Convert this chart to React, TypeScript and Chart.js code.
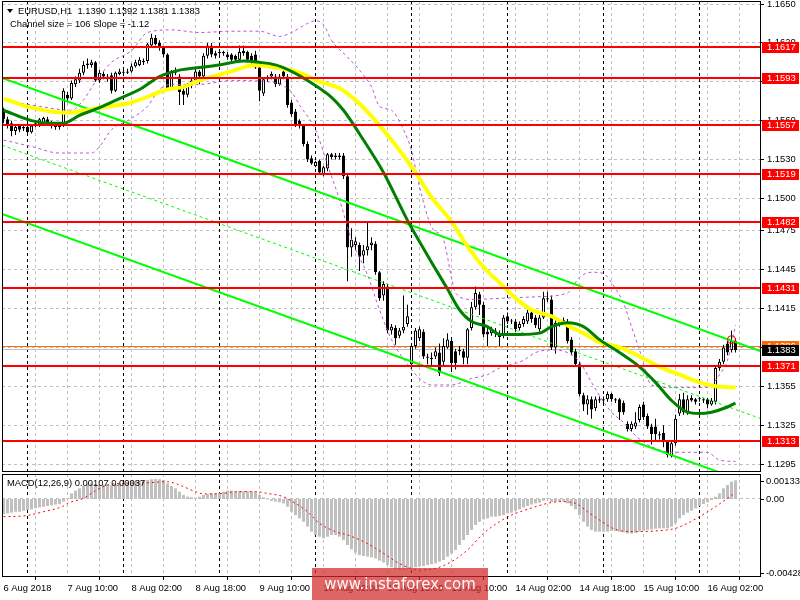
import React, { useEffect, useRef } from 'react';
import { Chart, registerables } from 'chart.js';

Chart.register(...registerables);

const FONT_FAMILY = '"Liberation Sans", Arial, sans-serif';
const FONT_SIZE = 9.4;
const TEXT_FONT = FONT_SIZE + 'px "Liberation Sans", Arial, sans-serif';

// ---------- texts ----------
const symbolTitle = 'EURUSD,H1  1.1390 1.1392 1.1381 1.1383';
const channelTitle = 'Channel size = 106 Slope = -1.12';
const macdTitle = 'MACD(12,26,9) 0.00107 0.00037';
const watermark = 'www.instaforex.com';

// ---------- time axis (one bar = one hour, bar 0 = 6 Aug 18:00) ----------
const timeLabels = ['6 Aug 2018', '7 Aug 10:00', '8 Aug 02:00', '8 Aug 18:00', '9 Aug 10:00', '10 Aug 02:00', '10 Aug 18:00', '13 Aug 10:00', '14 Aug 02:00', '14 Aug 18:00', '15 Aug 10:00', '16 Aug 02:00'];
const timeLabelIdx = [0, 16, 32, 48, 64, 80, 96, 112, 128, 144, 160, 176];
const gridIdx = [8, 16, 24, 32, 40, 48, 56, 64, 72, 80, 88, 96, 104, 112, 120, 128, 136, 144, 152, 160, 168, 176, 184];
const dayIdx = [6, 30, 54, 78, 102, 126, 150, 174];

// ---------- price axis ----------
const priceTicks = [1.1650, 1.1620, 1.1590, 1.1560, 1.1530, 1.1500, 1.1475, 1.1445, 1.1415, 1.1385, 1.1355, 1.1325, 1.1295];
const redLevels = [1.1617, 1.1593, 1.1557, 1.1519, 1.1482, 1.1431, 1.1371, 1.1313];
const askLevel = 1.1386;
const bidLevel = 1.1383;

// ---------- candles ----------
const opens = [
  1.1567, 1.1561, 1.1558, 1.1552, 1.1556, 1.1554, 1.1555, 1.1551,
  1.1556, 1.1557, 1.1558, 1.1561, 1.1559, 1.1557, 1.1556, 1.1556,
  1.1580, 1.1577, 1.1588, 1.1591, 1.1597, 1.1603, 1.1603, 1.1605,
  1.1591, 1.1596, 1.1594, 1.1595, 1.1583, 1.1596, 1.1597, 1.1597,
  1.1598, 1.1602, 1.1603, 1.1606, 1.1606, 1.1618, 1.1624, 1.1620,
  1.1616, 1.1611, 1.1585, 1.1597, 1.1594, 1.1583, 1.1580, 1.1587,
  1.1591, 1.1598, 1.1594, 1.1610, 1.1618, 1.1612, 1.1612, 1.1613,
  1.1611, 1.1611, 1.1610, 1.1607, 1.1614, 1.1613, 1.1610, 1.1611,
  1.1601, 1.1581, 1.1592, 1.1594, 1.1594, 1.1588, 1.1598, 1.1594,
  1.1574, 1.1567, 1.1560, 1.1556, 1.1542, 1.1531, 1.1525, 1.1529,
  1.1518, 1.1523, 1.1534, 1.1533, 1.1533, 1.1533, 1.1517, 1.1462,
  1.1464, 1.1464, 1.1456, 1.1460, 1.1464, 1.1465, 1.1443, 1.1425,
  1.1432, 1.1398, 1.1400, 1.1394, 1.1398, 1.1403, 1.1372, 1.1386,
  1.1392, 1.1397, 1.1378, 1.1376, 1.1378, 1.1381, 1.1374, 1.1385,
  1.1390, 1.1382, 1.1382, 1.1382, 1.1377, 1.1400, 1.1416, 1.1426,
  1.1418, 1.1397, 1.1396, 1.1398, 1.1396, 1.1395, 1.1409, 1.1405,
  1.1405, 1.1400, 1.1403, 1.1405, 1.1412, 1.1408, 1.1399, 1.1408,
  1.1423, 1.1422, 1.1385, 1.1403, 1.1405, 1.1405, 1.1391, 1.1382,
  1.1372, 1.1348, 1.1341, 1.1345, 1.1338, 1.1345, 1.1345, 1.1345,
  1.1349, 1.1345, 1.1345, 1.1342, 1.1326, 1.1322, 1.1324, 1.1329,
  1.1341, 1.1332, 1.1324, 1.1324, 1.1318, 1.1319, 1.1312, 1.1301,
  1.1311, 1.1334, 1.1345, 1.1335, 1.1346, 1.1345, 1.1345, 1.1345,
  1.1345, 1.1341, 1.1343, 1.1369, 1.1374, 1.1388, 1.1383, 1.1390,
];
const highs = [
  1.1570, 1.1563, 1.1560, 1.1557, 1.1557, 1.1557, 1.1556, 1.1557,
  1.1560, 1.1562, 1.1563, 1.1563, 1.1560, 1.1558, 1.1559, 1.1585,
  1.1582, 1.1591, 1.1594, 1.1600, 1.1606, 1.1608, 1.1607, 1.1606,
  1.1599, 1.1598, 1.1596, 1.1597, 1.1598, 1.1600, 1.1599, 1.1600,
  1.1604, 1.1607, 1.1609, 1.1608, 1.1620, 1.1627, 1.1626, 1.1622,
  1.1617, 1.1612, 1.1599, 1.1601, 1.1596, 1.1585, 1.1589, 1.1593,
  1.1600, 1.1599, 1.1612, 1.1620, 1.1620, 1.1614, 1.1615, 1.1614,
  1.1613, 1.1612, 1.1611, 1.1618, 1.1618, 1.1614, 1.1612, 1.1614,
  1.1602, 1.1593, 1.1595, 1.1598, 1.1596, 1.1596, 1.1599, 1.1596,
  1.1576, 1.1569, 1.1561, 1.1557, 1.1544, 1.1533, 1.1529, 1.1530,
  1.1525, 1.1535, 1.1535, 1.1535, 1.1535, 1.1535, 1.1518, 1.1477,
  1.1470, 1.1466, 1.1464, 1.1481, 1.1470, 1.1467, 1.1444, 1.1436,
  1.1434, 1.1403, 1.1402, 1.1400, 1.1425, 1.1418, 1.1388, 1.1400,
  1.1401, 1.1399, 1.1380, 1.1381, 1.1385, 1.1388, 1.1392, 1.1396,
  1.1393, 1.1384, 1.1386, 1.1384, 1.1400, 1.1420, 1.1432, 1.1428,
  1.1420, 1.1400, 1.1401, 1.1400, 1.1398, 1.1410, 1.1412, 1.1407,
  1.1407, 1.1405, 1.1409, 1.1414, 1.1414, 1.1410, 1.1410, 1.1428,
  1.1428, 1.1425, 1.1406, 1.1407, 1.1408, 1.1407, 1.1393, 1.1384,
  1.1374, 1.1350, 1.1348, 1.1347, 1.1347, 1.1347, 1.1347, 1.1351,
  1.1350, 1.1346, 1.1346, 1.1344, 1.1328, 1.1328, 1.1335, 1.1341,
  1.1343, 1.1334, 1.1326, 1.1330, 1.1320, 1.1325, 1.1313, 1.1312,
  1.1333, 1.1349, 1.1350, 1.1348, 1.1348, 1.1346, 1.1346, 1.1346,
  1.1346, 1.1346, 1.1371, 1.1376, 1.1387, 1.1390, 1.1398, 1.1392,
];
const lows = [
  1.1558, 1.1554, 1.1548, 1.1549, 1.1551, 1.1552, 1.1549, 1.1550,
  1.1555, 1.1555, 1.1556, 1.1556, 1.1554, 1.1553, 1.1553, 1.1555,
  1.1574, 1.1576, 1.1586, 1.1589, 1.1595, 1.1600, 1.1601, 1.1590,
  1.1589, 1.1592, 1.1590, 1.1581, 1.1582, 1.1595, 1.1595, 1.1596,
  1.1597, 1.1601, 1.1602, 1.1603, 1.1604, 1.1617, 1.1618, 1.1614,
  1.1609, 1.1584, 1.1584, 1.1595, 1.1572, 1.1572, 1.1578, 1.1585,
  1.1589, 1.1588, 1.1592, 1.1608, 1.1609, 1.1608, 1.1610, 1.1610,
  1.1607, 1.1605, 1.1605, 1.1606, 1.1610, 1.1605, 1.1604, 1.1600,
  1.1575, 1.1579, 1.1590, 1.1592, 1.1586, 1.1587, 1.1592, 1.1570,
  1.1563, 1.1555, 1.1554, 1.1540, 1.1528, 1.1526, 1.1524, 1.1518,
  1.1517, 1.1521, 1.1530, 1.1530, 1.1530, 1.1515, 1.1436, 1.1455,
  1.1460, 1.1444, 1.1450, 1.1456, 1.1460, 1.1441, 1.1421, 1.1421,
  1.1396, 1.1395, 1.1387, 1.1392, 1.1396, 1.1401, 1.1371, 1.1384,
  1.1390, 1.1376, 1.1372, 1.1370, 1.1376, 1.1363, 1.1371, 1.1384,
  1.1366, 1.1368, 1.1379, 1.1372, 1.1372, 1.1398, 1.1414, 1.1410,
  1.1393, 1.1386, 1.1394, 1.1393, 1.1386, 1.1392, 1.1403, 1.1403,
  1.1397, 1.1398, 1.1401, 1.1403, 1.1404, 1.1400, 1.1397, 1.1407,
  1.1420, 1.1383, 1.1380, 1.1401, 1.1403, 1.1388, 1.1379, 1.1370,
  1.1347, 1.1336, 1.1333, 1.1330, 1.1336, 1.1342, 1.1342, 1.1343,
  1.1343, 1.1342, 1.1329, 1.1333, 1.1320, 1.1320, 1.1322, 1.1327,
  1.1329, 1.1322, 1.1310, 1.1312, 1.1314, 1.1308, 1.1300, 1.1300,
  1.1309, 1.1332, 1.1333, 1.1333, 1.1343, 1.1341, 1.1343, 1.1342,
  1.1338, 1.1340, 1.1341, 1.1367, 1.1372, 1.1379, 1.1381, 1.1381,
];
const closes = [
  1.1561, 1.1557, 1.1552, 1.1555, 1.1553, 1.1555, 1.1551, 1.1556,
  1.1558, 1.1561, 1.1562, 1.1558, 1.1556, 1.1555, 1.1555, 1.1583,
  1.1577, 1.1589, 1.1592, 1.1597, 1.1603, 1.1604, 1.1605, 1.1591,
  1.1597, 1.1594, 1.1592, 1.1583, 1.1597, 1.1598, 1.1597, 1.1598,
  1.1602, 1.1605, 1.1607, 1.1605, 1.1619, 1.1624, 1.1619, 1.1616,
  1.1611, 1.1585, 1.1598, 1.1598, 1.1582, 1.1580, 1.1587, 1.1591,
  1.1598, 1.1594, 1.1610, 1.1618, 1.1611, 1.1610, 1.1613, 1.1612,
  1.1609, 1.1607, 1.1607, 1.1613, 1.1612, 1.1607, 1.1606, 1.1601,
  1.1583, 1.1592, 1.1593, 1.1596, 1.1588, 1.1594, 1.1594, 1.1572,
  1.1565, 1.1557, 1.1556, 1.1542, 1.1530, 1.1527, 1.1528, 1.1520,
  1.1524, 1.1534, 1.1532, 1.1532, 1.1532, 1.1517, 1.1462, 1.1468,
  1.1467, 1.1455, 1.1460, 1.1463, 1.1466, 1.1443, 1.1423, 1.1434,
  1.1398, 1.1401, 1.1392, 1.1398, 1.1401, 1.1409, 1.1386, 1.1398,
  1.1399, 1.1378, 1.1377, 1.1377, 1.1382, 1.1365, 1.1386, 1.1391,
  1.1373, 1.1373, 1.1383, 1.1377, 1.1399, 1.1416, 1.1427, 1.1418,
  1.1395, 1.1395, 1.1399, 1.1397, 1.1393, 1.1408, 1.1405, 1.1405,
  1.1399, 1.1403, 1.1407, 1.1412, 1.1407, 1.1402, 1.1408, 1.1423,
  1.1422, 1.1385, 1.1404, 1.1405, 1.1406, 1.1390, 1.1381, 1.1372,
  1.1349, 1.1341, 1.1345, 1.1337, 1.1345, 1.1344, 1.1344, 1.1349,
  1.1345, 1.1344, 1.1335, 1.1335, 1.1322, 1.1326, 1.1327, 1.1339,
  1.1331, 1.1324, 1.1318, 1.1318, 1.1317, 1.1312, 1.1302, 1.1311,
  1.1330, 1.1345, 1.1335, 1.1345, 1.1344, 1.1343, 1.1345, 1.1344,
  1.1341, 1.1344, 1.1369, 1.1374, 1.1385, 1.1381, 1.1390, 1.1383,
];

// ---------- indicators (sampled at bar indices) ----------
const greenMaIdx = [0, 7, 12, 15, 19, 24, 29, 34, 39, 44, 49, 54, 60, 64, 68, 72, 77, 82, 85, 90, 95, 101, 106, 111, 114, 117, 121, 124, 129, 134, 137, 141, 145, 149, 154, 159, 163, 167, 171, 174, 177, 181, 183];
const greenMaVal = [1.1568, 1.1560, 1.1558, 1.1558, 1.1564, 1.1570, 1.1577, 1.1584, 1.1594, 1.1599, 1.1601, 1.1603, 1.1606, 1.1605, 1.1603, 1.1598, 1.1589, 1.1578, 1.1568, 1.1545, 1.1520, 1.1483, 1.1456, 1.1430, 1.1414, 1.1405, 1.1401, 1.1395, 1.1395, 1.1396, 1.1401, 1.1404, 1.1401, 1.1391, 1.1381, 1.1370, 1.1358, 1.1344, 1.1335, 1.1334, 1.1335, 1.1339, 1.1342];
const yellowMaIdx = [0, 7, 16, 24, 32, 41, 45, 49, 57, 63, 68, 74, 79, 84, 89, 97, 103, 107, 112, 116, 120, 124, 128, 132, 137, 141, 145, 149, 154, 159, 164, 169, 174, 178, 183];
const yellowMaVal = [1.1577, 1.1570, 1.1566, 1.1570, 1.1574, 1.1584, 1.1586, 1.1591, 1.1598, 1.1603, 1.1601, 1.1597, 1.1590, 1.1585, 1.1573, 1.1545, 1.1520, 1.1501, 1.1482, 1.1463, 1.1447, 1.1435, 1.1423, 1.1414, 1.1409, 1.1402, 1.1396, 1.1389, 1.1385, 1.1378, 1.1370, 1.1364, 1.1358, 1.1355, 1.1354];
const upperBandIdx = [0, 9, 17, 20, 23, 27, 32, 36, 42, 49, 57, 64, 69, 72, 76, 78, 80, 82, 86, 89, 92, 94, 97, 100, 102, 104, 107, 110, 112, 113, 117, 125, 133, 141, 144, 147, 150, 152, 155, 157, 159, 162, 167, 176, 179, 181, 183];
const upperBandVal = [1.1576, 1.1571, 1.1568, 1.1576, 1.1590, 1.1605, 1.1614, 1.1628, 1.1630, 1.1628, 1.1629, 1.1629, 1.1625, 1.1628, 1.1635, 1.1637, 1.1634, 1.1622, 1.1609, 1.1599, 1.1586, 1.1571, 1.1568, 1.1553, 1.1537, 1.1509, 1.1478, 1.1468, 1.1439, 1.1427, 1.1422, 1.1423, 1.1424, 1.1427, 1.1439, 1.1443, 1.1442, 1.1435, 1.1419, 1.1401, 1.1383, 1.1356, 1.1354, 1.1354, 1.1364, 1.1375, 1.1402];
const lowerBandIdx = [0, 7, 14, 22, 24, 27, 31, 36, 39, 42, 49, 57, 66, 72, 74, 78, 81, 84, 87, 91, 94, 97, 101, 104, 107, 112, 117, 121, 124, 130, 133, 137, 141, 144, 147, 150, 152, 155, 157, 160, 163, 167, 172, 176, 179, 183];
const lowerBandVal = [1.1545, 1.1540, 1.1535, 1.1535, 1.1540, 1.1553, 1.1560, 1.1571, 1.1584, 1.1588, 1.1588, 1.1591, 1.1590, 1.1582, 1.1572, 1.1553, 1.1526, 1.1499, 1.1468, 1.1441, 1.1414, 1.1391, 1.1372, 1.1361, 1.1356, 1.1356, 1.1361, 1.1364, 1.1369, 1.1375, 1.1381, 1.1383, 1.1381, 1.1374, 1.1358, 1.1343, 1.1335, 1.1327, 1.1320, 1.1312, 1.1307, 1.1304, 1.1304, 1.1304, 1.1298, 1.1297];

// regression channel (end points at the chart edges)
const channelIdx = [-0.375, 189.375];
const channelUpper = [1.1593, 1.1382];
const channelMiddle = [1.1541, 1.1330];
const channelLower = [1.1488, 1.1277];

// hand-drawn marker
const markerIdx = [182];
const markerVal = [1.1391];

// ---------- MACD ----------
const macdHist = [
  -0.00086, -0.00082, -0.00078, -0.00073, -0.00073, -0.00067, -0.00063, -0.00059,
  -0.00053, -0.00048, -0.00044, -0.00040, -0.00036, -0.00032, -0.00029, -0.00015,
  0.00004, 0.00032, 0.00048, 0.00061, 0.00074, 0.00086, 0.00090, 0.00086,
  0.00082, 0.00082, 0.00082, 0.00080, 0.00086, 0.00090, 0.00093, 0.00097,
  0.00101, 0.00103, 0.00105, 0.00105, 0.00109, 0.00113, 0.00114, 0.00113,
  0.00109, 0.00090, 0.00074, 0.00061, 0.00042, 0.00023, 0.00013, 0.00010,
  0.00008, 0.00013, 0.00023, 0.00029, 0.00032, 0.00032, 0.00036, 0.00042,
  0.00048, 0.00048, 0.00044, 0.00046, 0.00044, 0.00044, 0.00044, 0.00040,
  0.00023, 0.00010, -0.00002, -0.00010, -0.00015, -0.00019, -0.00025, -0.00044,
  -0.00073, -0.00092, -0.00111, -0.00130, -0.00158, -0.00187, -0.00206, -0.00216,
  -0.00225, -0.00216, -0.00206, -0.00206, -0.00216, -0.00235, -0.00263, -0.00288,
  -0.00307, -0.00321, -0.00326, -0.00330, -0.00334, -0.00340, -0.00353, -0.00364,
  -0.00378, -0.00391, -0.00401, -0.00404, -0.00406, -0.00403, -0.00397, -0.00391,
  -0.00387, -0.00384, -0.00378, -0.00374, -0.00368, -0.00359, -0.00349, -0.00330,
  -0.00311, -0.00292, -0.00263, -0.00235, -0.00206, -0.00177, -0.00149, -0.00130,
  -0.00116, -0.00111, -0.00101, -0.00101, -0.00097, -0.00092, -0.00082, -0.00078,
  -0.00067, -0.00059, -0.00048, -0.00040, -0.00032, -0.00025, -0.00021, -0.00010,
  0.00004, -0.00017, -0.00015, -0.00015, -0.00015, -0.00025, -0.00040, -0.00059,
  -0.00092, -0.00130, -0.00158, -0.00177, -0.00187, -0.00187, -0.00187, -0.00187,
  -0.00183, -0.00183, -0.00187, -0.00191, -0.00197, -0.00197, -0.00193, -0.00187,
  -0.00181, -0.00177, -0.00174, -0.00170, -0.00168, -0.00168, -0.00168, -0.00158,
  -0.00139, -0.00111, -0.00092, -0.00078, -0.00067, -0.00053, -0.00040, -0.00029,
  -0.00019, -0.00006, 0.00013, 0.00032, 0.00061, 0.00080, 0.00099, 0.00107,
];
const signalIdx = [0, 5, 10, 15, 16, 20, 23, 26, 31, 36, 41, 44, 48, 50, 55, 58, 63, 66, 70, 73, 76, 79, 83, 86, 90, 93, 96, 99, 104, 108, 112, 116, 120, 124, 127, 131, 136, 139, 143, 146, 149, 153, 158, 163, 168, 171, 174, 178, 183];
const signalVal = [-0.00101, -0.00097, -0.00073, -0.00040, -0.00025, 0.00004, 0.00048, 0.00080, 0.00090, 0.00093, 0.00099, 0.00080, 0.00042, 0.00029, 0.00032, 0.00042, 0.00042, 0.00032, 0.00013, -0.00025, -0.00073, -0.00139, -0.00187, -0.00206, -0.00244, -0.00282, -0.00326, -0.00370, -0.00406, -0.00397, -0.00359, -0.00292, -0.00197, -0.00130, -0.00092, -0.00059, -0.00025, -0.00015, -0.00025, -0.00073, -0.00120, -0.00174, -0.00187, -0.00183, -0.00168, -0.00139, -0.00101, -0.00044, 0.00037];
const macdScaleVals = [0.00133, 0, -0.00428];
const macdScaleLabels = ['0.00133', '0.00', '-0.00428'];

// ---------- scale ranges ----------
const X_MIN = -0.375;
const X_MAX = 189.375;
const PRICE_MIN = 1.128883;
const PRICE_MAX = 1.165232;
const MACD_MIN = -0.004465;
const MACD_MAX = 0.001431;

const pts = (idx: number[], vals: number[]) => idx.map((x, k) => ({ x, y: vals[k] }));

function vLine(ctx: any, x: number, top: number, bottom: number) {
  ctx.beginPath();
  ctx.moveTo(x, top);
  ctx.lineTo(x, bottom);
  ctx.stroke();
}
function hLine(ctx: any, y: number, left: number, right: number) {
  ctx.beginPath();
  ctx.moveTo(left, y);
  ctx.lineTo(right, y);
  ctx.stroke();
}

function drawTimeGrid(ctx: any, a: any, xs: any) {
  ctx.setLineDash([3, 3]);
  ctx.strokeStyle = '#c0c0c0';
  gridIdx.forEach((i) => {
    const px = Math.floor(xs.getPixelForValue(i)) + 0.5;
    if (px > a.left && px < a.right) vLine(ctx, px, a.top, a.bottom);
  });
  ctx.strokeStyle = '#000000';
  dayIdx.forEach((i) => {
    const px = Math.floor(xs.getPixelForValue(i)) + 0.5;
    if (px > a.left && px < a.right) vLine(ctx, px, a.top, a.bottom);
  });
  ctx.setLineDash([]);
}

function drawFrame(ctx: any, a: any) {
  ctx.strokeStyle = '#000';
  ctx.lineWidth = 1;
  ctx.setLineDash([]);
  ctx.strokeRect(a.left + 0.5, a.top + 0.5, a.right - a.left - 1, a.bottom - a.top - 1);
}

function axisBox(ctx: any, a: any, y: number, bg: string, text: string) {
  const py = Math.round(y);
  ctx.fillStyle = bg;
  ctx.fillRect(a.right + 1, py - 5, 37, 11);
  ctx.fillStyle = '#ffffff';
  ctx.font = TEXT_FONT;
  ctx.textAlign = 'left';
  ctx.textBaseline = 'middle';
  ctx.fillText(text, a.right + 6, py + 0.5);
}

const mainPlugin = {
  id: 'mainDecor',
  beforeDatasetsDraw(chart: any) {
    const { ctx, chartArea: a, scales } = chart;
    const xs = scales.x;
    const ys = scales.y;
    ctx.save();
    ctx.lineWidth = 1;
    ctx.setLineDash([3, 3]);
    ctx.strokeStyle = '#c0c0c0';
    priceTicks.forEach((v) => {
      const py = Math.floor(ys.getPixelForValue(v)) + 0.5;
      if (py > a.top + 1 && py < a.bottom - 1) hLine(ctx, py, a.left, a.right);
    });
    drawTimeGrid(ctx, a, xs);
    ctx.strokeStyle = '#c0c0c0';
    hLine(ctx, Math.floor(ys.getPixelForValue(bidLevel)) + 0.5, a.left, a.right);
    ctx.strokeStyle = '#ff6a00';
    hLine(ctx, Math.floor(ys.getPixelForValue(askLevel)) + 0.5, a.left, a.right);
    ctx.restore();
  },
  afterDatasetsDraw(chart: any) {
    const { ctx, chartArea: a, scales } = chart;
    const ys = scales.y;
    ctx.save();
    ctx.strokeStyle = '#ff0000';
    ctx.lineWidth = 2;
    redLevels.forEach((v) => {
      const py = Math.round(ys.getPixelForValue(v));
      hLine(ctx, py, a.left, a.right);
    });
    ctx.restore();
  },
  afterDraw(chart: any) {
    const { ctx, chartArea: a, scales } = chart;
    const ys = scales.y;
    ctx.save();
    drawFrame(ctx, a);
    redLevels.forEach((v) => axisBox(ctx, a, ys.getPixelForValue(v), '#ff0000', v.toFixed(4)));
    axisBox(ctx, a, ys.getPixelForValue(askLevel), '#ff6a00', askLevel.toFixed(4));
    axisBox(ctx, a, ys.getPixelForValue(bidLevel), '#000000', bidLevel.toFixed(4));
    // header
    ctx.fillStyle = '#000';
    ctx.beginPath();
    ctx.moveTo(7, 9);
    ctx.lineTo(13, 9);
    ctx.lineTo(10, 13);
    ctx.closePath();
    ctx.fill();
    ctx.font = TEXT_FONT;
    ctx.textAlign = 'left';
    ctx.textBaseline = 'middle';
    ctx.fillText(symbolTitle, 18, 11);
    ctx.fillText(channelTitle, 10, 24);
    ctx.restore();
  },
};

const macdPlugin = {
  id: 'macdDecor',
  beforeDatasetsDraw(chart: any) {
    const { ctx, chartArea: a, scales } = chart;
    ctx.save();
    ctx.lineWidth = 1;
    drawTimeGrid(ctx, a, scales.x);
    ctx.setLineDash([3, 3]);
    ctx.strokeStyle = '#c0c0c0';
    hLine(ctx, Math.floor(scales.y.getPixelForValue(0)) + 0.5, a.left, a.right);
    ctx.restore();
  },
  afterDraw(chart: any) {
    const { ctx, chartArea: a, scales } = chart;
    ctx.save();
    drawFrame(ctx, a);
    ctx.fillStyle = '#000';
    ctx.strokeStyle = '#000';
    ctx.font = TEXT_FONT;
    ctx.textAlign = 'left';
    ctx.textBaseline = 'middle';
    ctx.fillText(macdTitle, 7, a.top + 9);
    macdScaleVals.forEach((v, k) => {
      const raw = scales.y.getPixelForValue(v);
      const py = Math.min(Math.max(raw, a.top + 7), a.bottom - 4);
      ctx.fillText(macdScaleLabels[k], a.right + 5, py);
      ctx.beginPath();
      ctx.moveTo(a.right, Math.round(py) + 0.5);
      ctx.lineTo(a.right + 3, Math.round(py) + 0.5);
      ctx.stroke();
    });
    ctx.restore();
  },
};

export default function App() {
  const mainRef = useRef<HTMLCanvasElement | null>(null);
  const macdRef = useRef<HTMLCanvasElement | null>(null);

  useEffect(() => {
    Chart.defaults.font.family = FONT_FAMILY;
    Chart.defaults.font.size = FONT_SIZE;
    Chart.defaults.color = '#000';

    const idx = opens.map((_, i) => i);
    const wicks = idx.map((i) => ({ x: i, y: [lows[i], highs[i]] }));
    const bodies = idx.map((i) => ({ x: i, y: [opens[i], closes[i]] }));
    const bodyFill = idx.map((i) => (closes[i] > opens[i] ? '#ffffff' : '#000000'));

    const lineBase = { type: 'line', pointRadius: 0, fill: false, cubicInterpolationMode: 'monotone' };

    const main = new Chart(mainRef.current as any, {
      type: 'bar',
      data: {
        datasets: [
          { type: 'bar', data: wicks, backgroundColor: '#000000', barThickness: 1, grouped: false, inflateAmount: 0, order: 30 },
          { type: 'bar', data: bodies, backgroundColor: bodyFill, borderColor: '#000000', borderWidth: 1, borderSkipped: false, barThickness: 3, minBarLength: 1, grouped: false, inflateAmount: 0, order: 29 },
          { ...lineBase, data: pts(upperBandIdx, upperBandVal), borderColor: '#ba55d3', borderWidth: 1, borderDash: [3, 3], order: 20 },
          { ...lineBase, data: pts(lowerBandIdx, lowerBandVal), borderColor: '#ba55d3', borderWidth: 1, borderDash: [3, 3], order: 20 },
          { ...lineBase, data: pts(channelIdx, channelMiddle), borderColor: '#00ff00', borderWidth: 1, borderDash: [3, 3], order: 15 },
          { ...lineBase, data: pts(channelIdx, channelUpper), borderColor: '#00ff00', borderWidth: 2, order: 14 },
          { ...lineBase, data: pts(channelIdx, channelLower), borderColor: '#00ff00', borderWidth: 2, order: 14 },
          { ...lineBase, data: pts(yellowMaIdx, yellowMaVal), borderColor: '#ffff00', borderWidth: 4, order: 11 },
          { ...lineBase, data: pts(greenMaIdx, greenMaVal), borderColor: '#008000', borderWidth: 3, order: 10 },
          { type: 'line', data: pts(markerIdx, markerVal), showLine: false, pointRadius: 4, pointBorderWidth: 1, pointBorderColor: '#ff0000', pointBackgroundColor: 'rgba(0,0,0,0)', order: 1 },
        ] as any,
      },
      options: {
        responsive: false,
        animation: false,
        events: [],
        layout: { autoPadding: false, padding: { left: 2, top: 1, right: 0, bottom: 1 } },
        plugins: { legend: { display: false }, tooltip: { enabled: false } },
        scales: {
          x: { type: 'linear', display: false, min: X_MIN, max: X_MAX, offset: false, grid: { display: false } },
          y: {
            type: 'linear',
            position: 'right',
            min: PRICE_MIN,
            max: PRICE_MAX,
            beginAtZero: false,
            afterBuildTicks: (s: any) => { s.ticks = priceTicks.map((v) => ({ value: v })); },
            afterFit: (s: any) => { s.width = 39; s.paddingTop = 0; s.paddingBottom = 0; },
            ticks: { color: '#000', padding: 3, font: { size: FONT_SIZE }, callback: (v: any) => Number(v).toFixed(4) },
            grid: { drawOnChartArea: false, drawTicks: true, tickLength: 3, tickColor: '#000' },
            border: { display: false },
          },
        },
      } as any,
      plugins: [mainPlugin],
    });

    const macd = new Chart(macdRef.current as any, {
      type: 'bar',
      data: {
        datasets: [
          { type: 'line', data: pts(signalIdx, signalVal), borderColor: '#ff0000', borderWidth: 1, borderDash: [2, 3], pointRadius: 0, cubicInterpolationMode: 'monotone', order: 1 },
          { type: 'bar', data: idx.map((i) => ({ x: i, y: macdHist[i] })), backgroundColor: '#c0c0c0', barThickness: 3, grouped: false, inflateAmount: 0, order: 2 },
        ] as any,
      },
      options: {
        responsive: false,
        animation: false,
        events: [],
        layout: { autoPadding: false, padding: { left: 2, top: 1, right: 0, bottom: 0 } },
        plugins: { legend: { display: false }, tooltip: { enabled: false } },
        scales: {
          x: {
            type: 'linear',
            position: 'bottom',
            min: X_MIN,
            max: X_MAX,
            offset: false,
            afterBuildTicks: (s: any) => { s.ticks = timeLabelIdx.map((v) => ({ value: v })); },
            afterFit: (s: any) => { s.height = 23; s.paddingLeft = 0; s.paddingRight = 0; },
            ticks: { autoSkip: false, maxRotation: 0, minRotation: 0, align: 'start', padding: 3, color: '#000', font: { size: FONT_SIZE }, callback: (_v: any, i: number) => timeLabels[i] },
            grid: { drawOnChartArea: false, drawTicks: true, tickLength: 3, tickColor: '#000' },
            border: { display: false },
          },
          y: {
            type: 'linear',
            position: 'right',
            min: MACD_MIN,
            max: MACD_MAX,
            beginAtZero: false,
            afterFit: (s: any) => { s.width = 39; s.paddingTop = 0; s.paddingBottom = 0; },
            ticks: { display: false },
            grid: { display: false },
            border: { display: false },
          },
        },
      } as any,
      plugins: [macdPlugin],
    });

    return () => {
      main.destroy();
      macd.destroy();
    };
  }, []);

  return (
    <div style={{ position: 'absolute', left: 0, top: 0, width: 800, height: 600, background: '#ffffff', overflow: 'hidden' }}>
      <canvas ref={mainRef} width={800} height={473} style={{ position: 'absolute', left: 0, top: 0, width: 800, height: 473 }} />
      <canvas ref={macdRef} width={800} height={127} style={{ position: 'absolute', left: 0, top: 473, width: 800, height: 127 }} />
      <div
        style={{
          position: 'absolute',
          left: 312,
          top: 568,
          width: 176,
          height: 32,
          background: 'rgba(210, 40, 40, 0.72)',
          color: 'rgba(255,255,255,0.95)',
          font: '15px "DejaVu Sans", sans-serif',
          display: 'flex',
          alignItems: 'center',
          justifyContent: 'center',
          whiteSpace: 'nowrap',
        }}
      >
        {watermark}
      </div>
    </div>
  );
}
